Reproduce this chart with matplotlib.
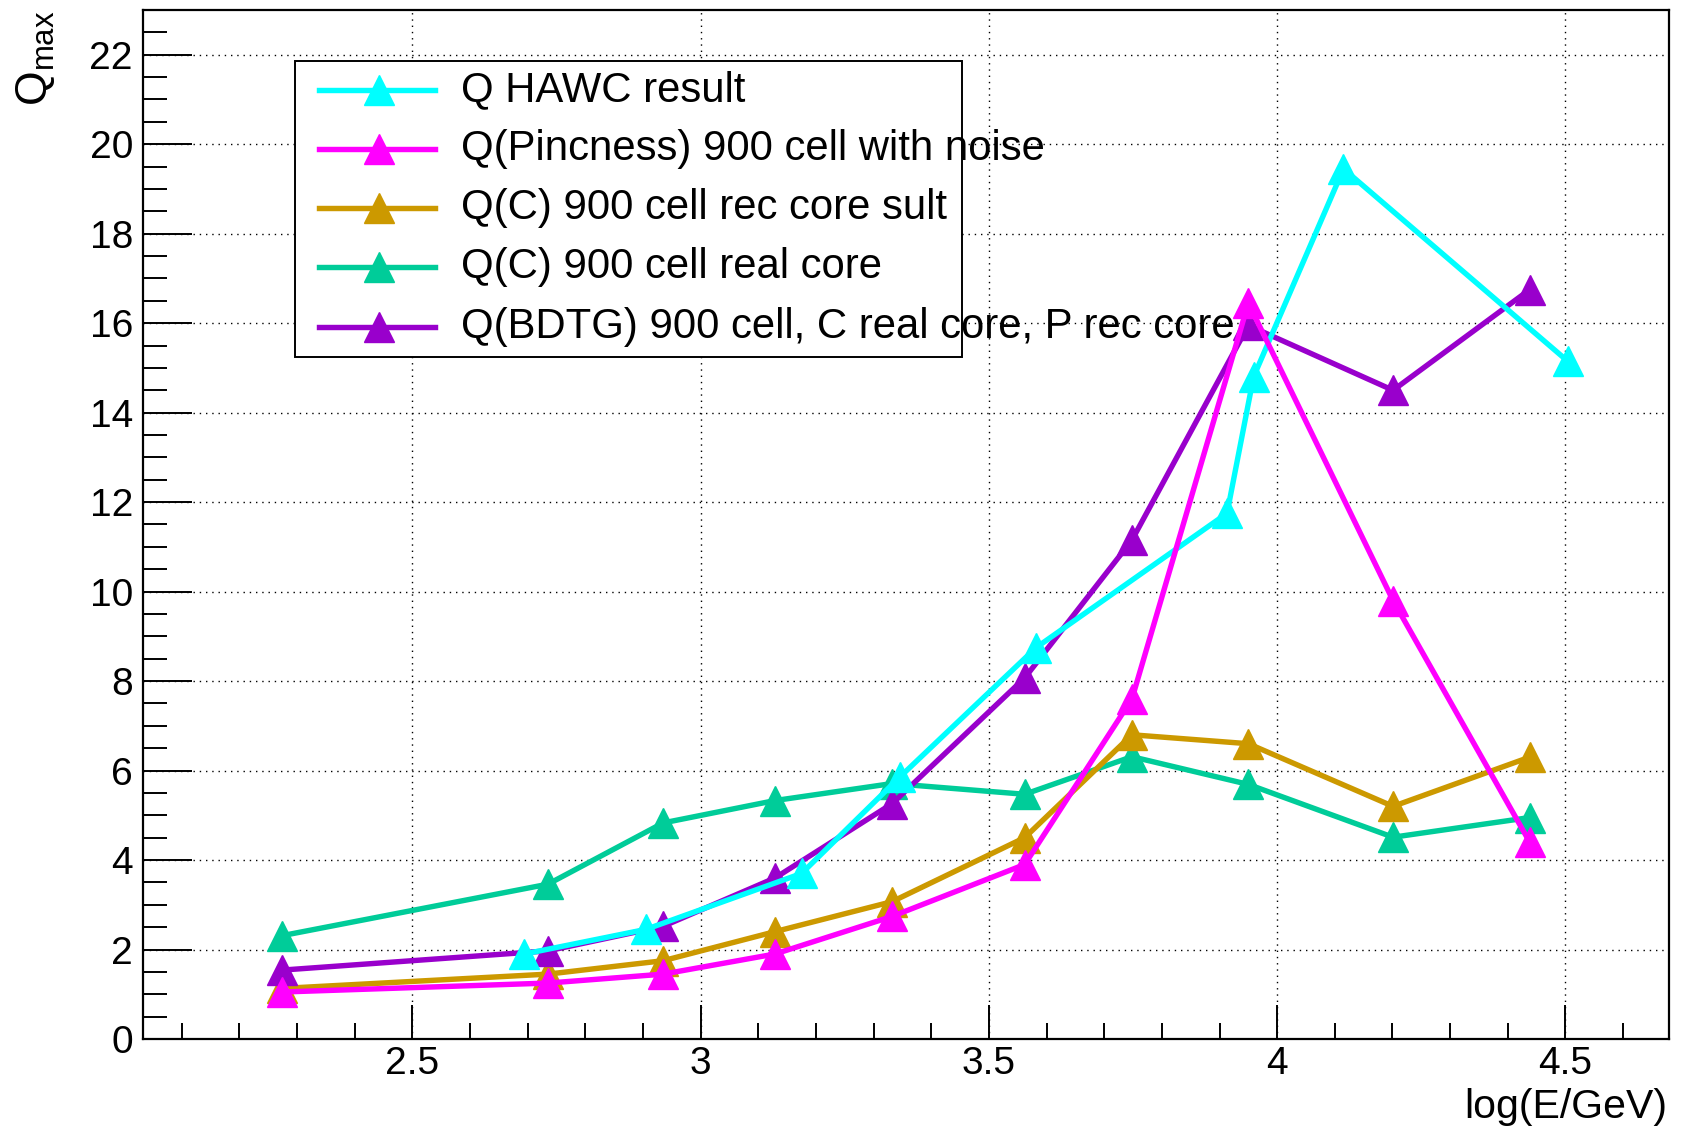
import numpy as np
import matplotlib
matplotlib.use("Agg")
from matplotlib import pyplot as plt
from matplotlib.lines import Line2D
from matplotlib.patches import Rectangle
from matplotlib.ticker import MultipleLocator

plt.rcParams['font.family'] = ['Liberation Sans', 'DejaVu Sans']

# data
x_hawc = [2.694, 2.905, 3.175, 3.345, 3.582, 3.913, 3.959, 4.115, 4.504]
q_hawc = [1.9, 2.45, 3.7, 5.85, 8.75, 11.75, 14.8, 19.45, 15.15]

x_sim = [2.274, 2.735, 2.935, 3.129, 3.332, 3.562, 3.748, 3.950, 4.201, 4.438]
q_pinc = [1.05, 1.25, 1.45, 1.9, 2.74, 3.9, 7.6, 16.45, 9.8, 4.4]
q_c_rec = [1.13, 1.45, 1.75, 2.4, 3.07, 4.5, 6.8, 6.6, 5.2, 6.3]
q_c_real = [2.31, 3.46, 4.83, 5.33, 5.71, 5.47, 6.31, 5.69, 4.51, 4.95]
q_bdtg = [1.54, 1.97, 2.52, 3.6, 5.26, 8.07, 11.15, 15.95, 14.5, 16.75]

labels = ["Q HAWC result",
          "Q(Pincness) 900 cell with noise",
          "Q(C) 900 cell rec core sult",
          "Q(C) 900 cell real core",
          "Q(BDTG) 900 cell, C real core, P rec core"]
colors = ['#00ffff', '#ff00ff', '#cc9900', '#00cc99', '#9900cc']

series = [(x_hawc, q_hawc), (x_sim, q_pinc), (x_sim, q_c_rec),
          (x_sim, q_c_real), (x_sim, q_bdtg)]

fig = plt.figure(figsize=(16.86, 11.37), dpi=100)
ax = fig.add_axes([0.0846, 0.0862, 0.9897 - 0.0846, 0.9912 - 0.0862])

# draw order: last drawn on top
order = [3, 2, 4, 0, 1]
for i in order:
    xs, ys = series[i]
    ax.plot(xs, ys, color=colors[i], lw=3.9, marker='^', ms=21.5,
            mec=colors[i], mfc=colors[i], zorder=3 + order.index(i) * 0.1)

ax.set_xlim(2.032, 4.679)
ax.set_ylim(0, 23)

ax.xaxis.set_major_locator(MultipleLocator(0.5))
ax.xaxis.set_minor_locator(MultipleLocator(0.1))
ax.yaxis.set_major_locator(MultipleLocator(2))
ax.yaxis.set_minor_locator(MultipleLocator(0.5))
ax.xaxis.set_major_formatter(plt.FuncFormatter(lambda v, p: f"{v:g}"))

ax.tick_params(axis='both', which='both', direction='in', top=False,
               right=False, width=1.4, labelsize=28, colors='black')
ax.tick_params(axis='x', which='major', length=24.5, pad=5)
ax.tick_params(axis='x', which='minor', length=11.5)
ax.tick_params(axis='y', which='major', length=35, pad=7)
ax.tick_params(axis='y', which='minor', length=17)

for s in ax.spines.values():
    s.set_linewidth(1.6)

ax.grid(True, which='major', color='black', linestyle=(0, (1, 3.5)),
        linewidth=1.0, zorder=1)
ax.set_axisbelow(True)

ax.text(0.999, -0.066, "log(E/GeV)", transform=ax.transAxes, ha='right',
        va='center', fontsize=29.5)
ax.text(-0.0705, 1.0, r"$\mathregular{Q_{max}}$", transform=ax.transAxes,
        rotation=90, ha='center', va='top', fontsize=32)

# legend box (text spills past the frame as in the original)
ax.add_patch(Rectangle((0.0996, 0.6628), 0.5372 - 0.0996, 0.9504 - 0.6628,
                       transform=ax.transAxes, facecolor='white',
                       edgecolor='black', lw=1.4, zorder=5))
rows = [0.9223, 0.8649, 0.8076, 0.7502, 0.6919]
for i, (lab, ry) in enumerate(zip(labels, rows)):
    ax.add_line(Line2D([0.1159, 0.1918], [ry, ry], transform=ax.transAxes,
                       color=colors[i], lw=3.9, zorder=6))
    ax.add_line(Line2D([0.1552], [ry], transform=ax.transAxes, marker='^',
                       ms=21.5, color=colors[i], lw=0, zorder=6))
    ax.text(0.2086, ry, lab, transform=ax.transAxes, ha='left', va='center',
            fontsize=30.2, zorder=7)

fig.savefig("out.png", dpi=100)
